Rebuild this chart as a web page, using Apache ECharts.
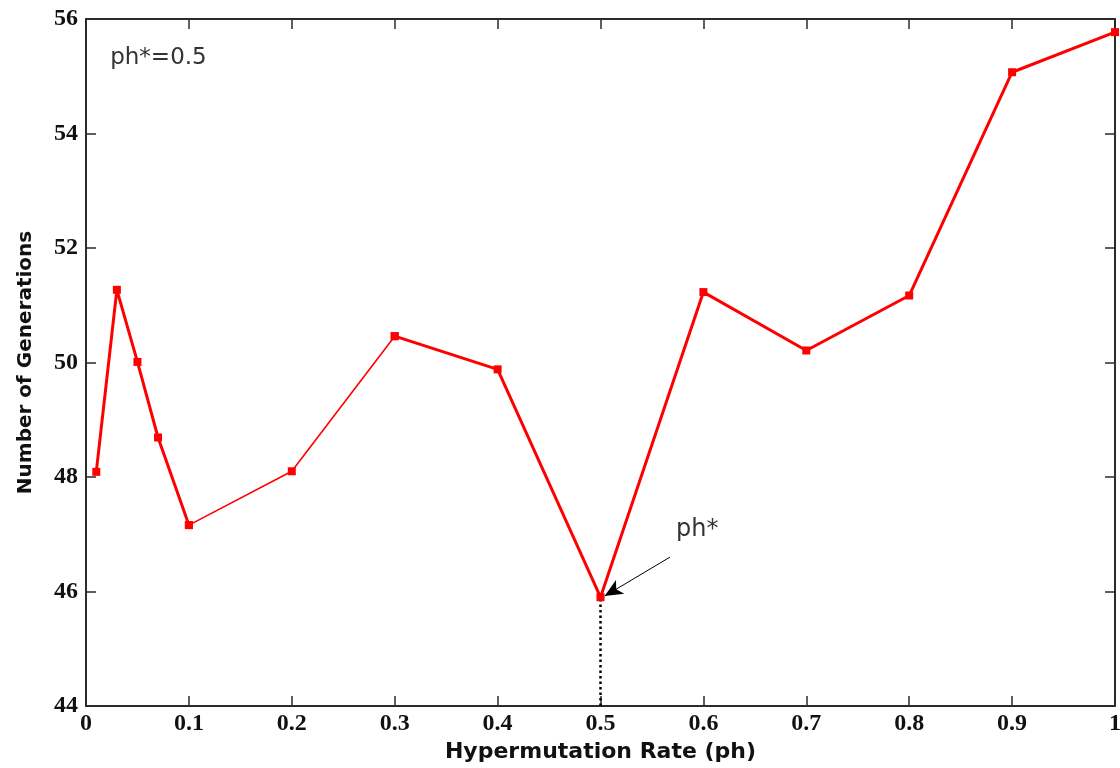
<!DOCTYPE html>
<html>
<head>
<meta charset="utf-8">
<script src="https://cdn.jsdelivr.net/npm/echarts@6/dist/echarts.min.js"></script>
<style>
  html, body { margin: 0; padding: 0; background: #fff; }
  #chart { width: 1120px; height: 768px; }
</style>
</head>
<body>
<div id="chart"></div>
<script>
// Hypermutation rate (ph) vs. mean number of generations
const rates = [0.01, 0.03, 0.05, 0.07, 0.1, 0.2, 0.3, 0.4, 0.5, 0.6, 0.7, 0.8, 0.9, 1.0];
const generations = [48.09, 51.27, 50.01, 48.69, 47.16, 48.1, 50.46, 49.88, 45.9, 51.23, 50.21, 51.17, 55.07, 55.77];
const xTicks = ['0', '0.1', '0.2', '0.3', '0.4', '0.5', '0.6', '0.7', '0.8', '0.9', '1'];
const bestRate = 0.5;
const bestLabel = 'ph*=0.5';

const pts = rates.map((r, i) => [r, generations[i]]);
const idx01 = rates.indexOf(0.1);
const idx03 = rates.indexOf(0.3);
const bestIdx = rates.indexOf(bestRate);

const RED = '#ff0000';
const AXIS = '#2b2b2b';
const tickFont = { fontFamily: 'Liberation Serif', fontWeight: 'bold', fontSize: 24, color: '#111' };
const titleFont = { fontFamily: 'DejaVu Sans', fontWeight: 'bold', fontSize: 20, color: '#111' };

function seg(data, width) {
  return {
    type: 'line',
    data: data,
    symbol: 'rect',
    symbolSize: 8,
    itemStyle: { color: RED },
    lineStyle: { color: RED, width: width },
    silent: true,
    z: 3
  };
}

const frameAxis = {
  axisLine: { show: true, onZero: false, lineStyle: { color: AXIS, width: 2 } },
  axisTick: { show: true, inside: true, length: 10, lineStyle: { color: AXIS, width: 1.5 } },
  splitLine: { show: false }
};

const chart = echarts.init(document.getElementById('chart'));
chart.setOption({
  animation: false,
  grid: { left: 86, right: 5, top: 19, bottom: 62, containLabel: false, outerBoundsMode: 'none' },
  xAxis: [
    Object.assign({
      type: 'value', min: 0, max: 1, interval: 0.1,
      name: 'Hypermutation Rate (ph)', nameLocation: 'middle', nameGap: 35,
      nameTextStyle: Object.assign({}, titleFont, { fontSize: 22 }),
      axisLabel: Object.assign({ margin: 6, formatter: (v) => xTicks[Math.round(v * 10)] }, tickFont)
    }, frameAxis),
    Object.assign({
      type: 'value', min: 0, max: 1, interval: 0.1, position: 'top',
      axisLabel: { show: false }
    }, frameAxis)
  ],
  yAxis: [
    Object.assign({
      type: 'value', min: 44, max: 56, interval: 2,
      name: 'Number of Generations', nameLocation: 'middle', nameGap: 50, nameRotate: 90,
      nameTextStyle: titleFont,
      axisLabel: Object.assign({ margin: 8 }, tickFont)
    }, frameAxis),
    Object.assign({
      type: 'value', min: 44, max: 56, interval: 2, position: 'right',
      axisLabel: { show: false }
    }, frameAxis)
  ],
  series: [
    seg(pts.slice(0, idx01 + 1), 3),
    seg(pts.slice(idx01, idx03 + 1), 1.6),
    seg(pts.slice(idx03), 3),
    {
      // dotted drop line from the optimum down to the x axis
      type: 'line',
      data: [[bestRate, 44], [bestRate, generations[bestIdx]]],
      symbol: 'none',
      lineStyle: { color: '#000', width: 2.5, type: [2.5, 3] },
      silent: true,
      z: 2,
      markLine: {
        silent: true,
        symbol: ['none', 'arrow'],
        symbolSize: [12, 18],
        lineStyle: { color: '#000', width: 1, type: 'solid' },
        label: { show: false },
        data: [[
          { coord: [0.5675, 46.6] },
          { coord: [bestRate + 0.004, generations[bestIdx] + 0.02] }
        ]]
      },
      markPoint: {
        silent: true,
        symbol: 'circle',
        symbolSize: 0,
        data: [
          {
            coord: [0.594, 47.07],
            label: { show: true, formatter: 'ph*', position: 'inside', fontFamily: 'DejaVu Sans', fontSize: 24, color: '#333' }
          },
          {
            coord: [0.0235, 55.32],
            label: { show: true, formatter: bestLabel, position: 'right', distance: 0, fontFamily: 'DejaVu Sans', fontSize: 23, color: '#333' }
          }
        ]
      }
    }
  ]
});
</script>
</body>
</html>
